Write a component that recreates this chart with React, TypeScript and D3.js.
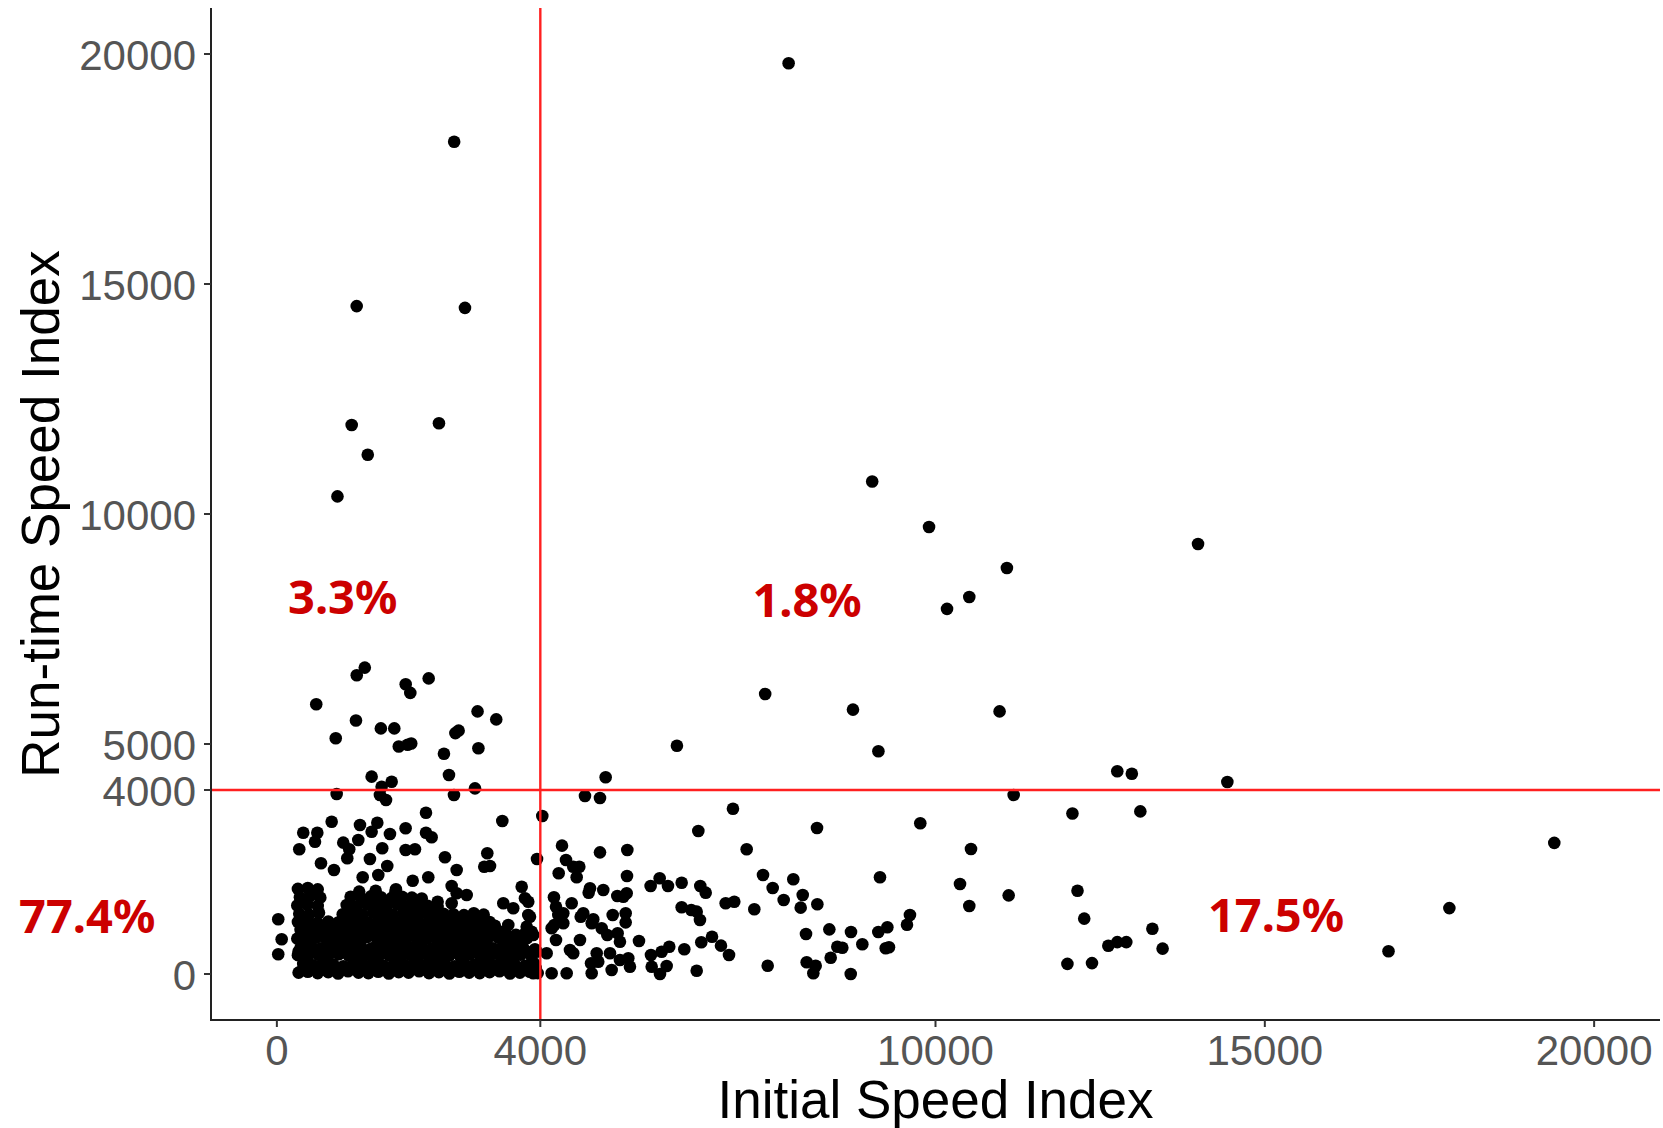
import React from "react";
import * as d3 from "d3";

type P = [number, number];

// Axis ticks
const xTicks = [0, 4000, 10000, 15000, 20000];
const yTicks = [0, 4000, 5000, 10000, 15000, 20000];
const thresholdX = 4000;
const thresholdY = 4000;

// Quadrant annotations
const quadLabels = ["3.3%", "1.8%", "77.4%", "17.5%"];
const quadLabelX = [1000, 8050, -2880, 15170];
const quadLabelY = [8200, 8120, 1270, 1280];

// Slow initial & slow run-time (upper left)
const upperLeft: P[] = [
  [920, 10383], [1136, 11935], [1380, 11289], [1212, 14520], [2692, 18091], [2856, 14480], [2461, 11974],
  [1335, 6661], [1213, 6496], [2305, 6426], [1956, 6300], [2026, 6111], [598, 5865], [3047, 5709],
  [3331, 5535], [1201, 5511], [1579, 5339], [1783, 5339], [2710, 5237], [2760, 5290], [894, 5126],
  [1851, 4946], [1985, 4985], [2040, 5010], [2537, 4787], [3060, 4907], [2613, 4326], [1439, 4290],
  [1743, 4180], [1591, 4072], [3008, 4036],
];

// Upper right
const upperRight: P[] = [
  [7770, 19800], [9039, 10708], [9902, 9716], [13986, 9347], [11084, 8826], [10513, 8196], [10175, 7937],
  [7414, 6087], [8747, 5748], [10973, 5709], [6074, 4961], [9133, 4843], [12760, 4409], [12981, 4354],
  [14431, 4174], [4992, 4276],
];

// Lower left, scattered points above the dense cluster
const lowerLeftScatter: P[] = [
  [908, 3913], [1565, 3891], [1657, 3783], [2689, 3891], [2264, 3507], [3423, 3326], [832, 3311],
  [401, 3072], [614, 3072], [579, 2876], [340, 2711], [1262, 3239], [1236, 2913], [1008, 2855],
  [1099, 2711], [1069, 2515], [1525, 3289], [1439, 3093], [1717, 3043], [1955, 3167], [1600, 2733],
  [1955, 2696], [2097, 2711], [2264, 3072], [2350, 2972], [1413, 2500], [670, 2406], [867, 2261],
  [1676, 2348], [1540, 2152], [1303, 2102], [2062, 2028], [2299, 2102], [2552, 2537], [2730, 2261],
  [3195, 2624], [3149, 2333], [3236, 2348], [3950, 2500], [1808, 1841], [2654, 1913], [2730, 1754],
  [2882, 1717], [2441, 1572], [2654, 1537], [3717, 1898], [3767, 1646], [3817, 1572], [3438, 1537],
  [3589, 1428], [3817, 1283], [3514, 1065], [3793, 1029], [21, 1189], [73, 754], [21, 428],
  [3919, 537], [3869, 920], [3945, 485], [3893, 15], [3893, 848], [3843, 1246],
];

// Lower left dense cluster
const clusterRow0: P[] = [
  [330, 30], [470, 50], [620, 20], [780, 40], [930, 10], [1080, 60], [1240, 30], [1390, 20], [1540, 50],
  [1700, 10], [1850, 40], [2000, 30], [2160, 60], [2310, 20], [2460, 40], [2620, 10], [2770, 50],
  [2920, 30], [3080, 20], [3230, 40], [3380, 60], [3540, 10], [3690, 30], [3840, 50], [3960, 20],
];
const clusterRow1: P[] = [
  [400, 220], [550, 190], [700, 240], [860, 200], [1010, 170], [1160, 230], [1310, 210], [1470, 250],
  [1620, 180], [1780, 220], [1930, 200], [2080, 240], [2240, 190], [2390, 210], [2540, 230], [2700, 170],
  [2850, 220], [3000, 200], [3160, 250], [3310, 190], [3460, 230], [3610, 210], [3770, 180], [3900, 240],
];
const clusterRow2: P[] = [
  [320, 410], [470, 380], [630, 420], [780, 390], [940, 430], [1090, 400], [1240, 370], [1390, 420],
  [1550, 390], [1700, 410], [1860, 380], [2010, 430], [2160, 400], [2320, 370], [2470, 420], [2620, 400],
  [2780, 390], [2930, 430], [3090, 380], [3240, 410], [3390, 400], [3550, 370], [3700, 420], [3860, 390],
];
const clusterRow3: P[] = [
  [360, 570], [520, 600], [670, 560], [820, 590], [980, 610], [1130, 570], [1280, 590], [1440, 560],
  [1590, 600], [1740, 580], [1900, 620], [2050, 570], [2200, 590], [2360, 560], [2510, 600], [2660, 580],
  [2820, 610], [2970, 570], [3120, 590], [3280, 560], [3430, 600], [3580, 580], [3740, 570],
];
const clusterRow4: P[] = [
  [310, 770], [450, 750], [600, 790], [750, 760], [900, 780], [1060, 740], [1210, 770], [1360, 800],
  [1520, 760], [1670, 780], [1820, 750], [1980, 790], [2130, 760], [2280, 770], [2440, 740], [2590, 790],
  [2740, 760], [2900, 780], [3050, 750], [3200, 770], [3360, 790], [3510, 760], [3660, 740], [3800, 780],
];
const clusterRow5: P[] = [
  [360, 960], [520, 940], [670, 970], [820, 950], [980, 930], [1130, 970], [1290, 950], [1440, 940],
  [1590, 980], [1750, 950], [1900, 930], [2050, 960], [2210, 940], [2360, 970], [2510, 950], [2670, 930],
  [2820, 960], [2970, 940], [3130, 970], [3280, 940], [3430, 920],
];
const clusterRow6: P[] = [
  [320, 1130], [470, 1150], [620, 1110], [780, 1140], [930, 1120], [1080, 1160], [1240, 1130], [1390, 1110],
  [1540, 1150], [1700, 1130], [1850, 1120], [2000, 1150], [2160, 1110], [2310, 1140], [2460, 1130],
  [2620, 1160], [2770, 1120], [2920, 1140], [3080, 1110], [3230, 1130],
];
const clusterRow7: P[] = [
  [340, 1310], [490, 1290], [640, 1330], [1000, 1300], [1150, 1320], [1300, 1290], [1460, 1330],
  [1610, 1310], [1760, 1290], [1920, 1320], [2070, 1300], [2220, 1330], [2380, 1290], [2530, 1310],
  [2680, 1300], [2840, 1280], [2990, 1320], [3140, 1290],
];
const clusterRow8: P[] = [
  [310, 1490], [460, 1510], [620, 1480], [1060, 1500], [1210, 1470], [1370, 1510], [1520, 1490],
  [1670, 1480], [1830, 1510], [1980, 1470], [2130, 1500], [2290, 1480], [2440, 1460],
];
const clusterRow9: P[] = [
  [350, 1670], [500, 1690], [660, 1660], [1120, 1680], [1280, 1650], [1430, 1690], [1580, 1670],
  [1740, 1650], [1900, 1680], [2050, 1660], [2200, 1640],
];
const clusterRow10: P[] = [
  [320, 1850], [470, 1870], [620, 1840], [1250, 1790], [1500, 1810], [1800, 1780],
];
// Additional overlapping points inside the dense cluster
const clusterFillA: P[] = [
  [400, 110], [560, 130], [710, 100], [870, 120], [1020, 140], [1170, 110], [1320, 130], [1480, 100],
  [1630, 120], [1790, 140], [1940, 110], [2090, 130], [2250, 100], [2400, 120], [2550, 140], [2710, 110],
  [2860, 130], [3010, 100], [3170, 120], [3320, 140], [3470, 110], [3620, 130], [3780, 100], [3930, 130],
];
const clusterFillB: P[] = [
  [330, 490], [480, 470], [640, 500], [790, 480], [950, 510], [1100, 490], [1250, 470], [1410, 500],
  [1560, 480], [1720, 510], [1870, 490], [2020, 470], [2180, 500], [2330, 480], [2490, 510], [2640, 490],
  [2790, 470], [2950, 500], [3100, 480], [3260, 510], [3410, 490], [3560, 470], [3720, 500], [3870, 480],
];
const clusterFillC: P[] = [
  [400, 860], [550, 850], [710, 870], [860, 840], [1010, 860], [1170, 850], [1320, 870], [1480, 840],
  [1630, 860], [1790, 850], [1940, 870], [2100, 840], [2250, 860], [2400, 850], [2560, 870], [2710, 840],
  [2870, 860], [3020, 850], [3170, 870], [3330, 840], [3480, 860], [3630, 850], [3760, 870],
];
const clusterFillD: P[] = [
  [390, 1040], [540, 1050], [700, 1030], [860, 1040], [1010, 1060], [1160, 1030], [1320, 1050],
  [1470, 1040], [1620, 1030], [1780, 1060], [1930, 1040], [2080, 1030], [2240, 1050], [2390, 1040],
  [2540, 1060], [2700, 1030], [2850, 1050], [3000, 1040], [3160, 1030], [3310, 1050],
];

// Lower right
const lowerRight: P[] = [
  [4678, 3870], [4906, 3826], [4030, 3435], [11187, 3891], [6925, 3594], [6399, 3109], [8201, 3174],
  [9769, 3276], [7133, 2711], [10539, 2717], [9157, 2102], [10372, 1957], [11111, 1710], [10513, 1478],
  [4329, 2790], [4390, 2478], [4906, 2645], [5321, 2696], [4592, 2333], [4279, 2189], [4552, 2102],
  [5316, 2130], [5675, 1913], [5812, 2080], [5938, 1913], [6146, 1985], [6429, 1913], [6511, 1768],
  [7381, 2152], [7528, 1870], [7841, 2059], [7984, 1717], [7695, 1609], [7953, 1442], [8206, 1515],
  [6814, 1537], [6945, 1572], [7249, 1407], [6146, 1450], [6292, 1391], [6374, 1355], [6424, 1174],
  [8034, 870], [8388, 971], [8717, 913], [9132, 913], [9269, 1015], [9567, 1072], [9612, 1283],
  [8889, 646], [8509, 594], [8585, 572], [9244, 559], [9294, 580], [8409, 354], [8044, 254],
  [8181, 180], [8145, 15], [8713, 0], [7452, 180], [6374, 72], [6865, 413], [6743, 616], [6607, 811],
  [6444, 689], [6186, 537], [5498, 717], [5958, 594], [5842, 485], [5918, 174], [5680, 413],
  [5691, 159], [5817, 0], [5099, 1283], [5296, 1319], [5296, 1123], [4734, 1768], [4956, 1826],
  [5169, 1696], [5311, 1754], [4207, 1667], [4476, 1537], [4613, 1246], [4804, 1189], [4212, 1065],
  [4349, 1102], [5017, 848], [5174, 885], [5209, 702], [4602, 739], [4238, 739], [4450, 522],
  [4856, 450], [5058, 450], [5336, 341], [5361, 159], [5083, 87], [4780, 15], [4400, 15], [4172, 15],
  [4096, 450], [4500, 450], [4238, 1463], [4349, 1319], [4652, 1319], [4780, 1102], [4932, 993],
  [4172, 993], [4273, 1283], [4770, 232], [4880, 268], [5209, 304], [4754, 1863], [4500, 2333],
  [5260, 1680],
  [12079, 3489], [13110, 3535], [19395, 2850], [12156, 1811], [12258, 1204], [17802, 1433],
  [13293, 985], [12624, 615], [12760, 693], [12897, 693], [13448, 552], [12003, 220], [12376, 237],
  [16878, 496],
];

const allPoints: P[] = [
  ...clusterRow0, ...clusterRow1, ...clusterRow2, ...clusterRow3, ...clusterRow4, ...clusterRow5,
  ...clusterRow6, ...clusterRow7, ...clusterRow8, ...clusterRow9, ...clusterRow10,
  ...clusterFillA, ...clusterFillB, ...clusterFillC, ...clusterFillD,
  ...lowerLeftScatter, ...lowerRight, ...upperLeft, ...upperRight,
];

const W = 1663;
const H = 1128;
const panel = { left: 211, right: 1660, top: 8, bottom: 1020 };

export default function App() {
  const x = d3.scaleLinear().domain([-1000, 21000]).range([panel.left, panel.right]);
  const y = d3.scaleLinear().domain([-1000, 21000]).range([panel.bottom, panel.top]);
  const sansFont = "'Liberation Sans', Arial, Helvetica, sans-serif";

  return (
    <svg
      width={W}
      height={H}
      viewBox={`0 0 ${W} ${H}`}
      style={{ position: "absolute", left: 0, top: 0, display: "block", background: "#fff" }}
    >
      <rect x={0} y={0} width={W} height={H} fill="#fff" />

      {/* points */}
      <g>
        {allPoints.map((p, i) => (
          <circle key={i} cx={x(p[0])} cy={y(p[1])} r={6.3} fill="#000" />
        ))}
      </g>

      {/* threshold lines */}
      <line x1={x(thresholdX)} x2={x(thresholdX)} y1={panel.top} y2={panel.bottom} stroke="#ff2020" strokeWidth={2.4} />
      <line x1={panel.left} x2={panel.right} y1={y(thresholdY)} y2={y(thresholdY)} stroke="#ff2020" strokeWidth={2.4} />

      {/* axes */}
      <line x1={panel.left} x2={panel.left} y1={panel.top} y2={panel.bottom + 1} stroke="#222" strokeWidth={2} />
      <line x1={panel.left - 1} x2={panel.right} y1={panel.bottom} y2={panel.bottom} stroke="#222" strokeWidth={2} />

      {yTicks.map((t) => (
        <g key={"yt" + t}>
          <line x1={panel.left - 7} x2={panel.left} y1={y(t)} y2={y(t)} stroke="#333" strokeWidth={2} />
          <text
            x={panel.left - 15}
            y={y(t)}
            dy="0.37em"
            textAnchor="end"
            fontFamily={sansFont}
            fontSize={42}
            fill="#555"
          >
            {t}
          </text>
        </g>
      ))}

      {xTicks.map((t) => (
        <g key={"xt" + t}>
          <line x1={x(t)} x2={x(t)} y1={panel.bottom} y2={panel.bottom + 7} stroke="#333" strokeWidth={2} />
          <text x={x(t)} y={1065} textAnchor="middle" fontFamily={sansFont} fontSize={42} fill="#555">
            {t}
          </text>
        </g>
      ))}

      {/* axis titles */}
      <text
        x={(panel.left + panel.right) / 2}
        y={1118}
        textAnchor="middle"
        fontFamily={sansFont}
        fontSize={53}
        fill="#000"
      >
        Initial Speed Index
      </text>
      <text
        transform={`translate(59, ${(panel.top + panel.bottom) / 2}) rotate(-90)`}
        textAnchor="middle"
        fontFamily={sansFont}
        fontSize={53}
        fill="#000"
      >
        Run-time Speed Index
      </text>

      {/* quadrant percentages */}
      {quadLabels.map((s, i) => (
        <text
          key={s}
          x={x(quadLabelX[i])}
          y={y(quadLabelY[i])}
          dy="0.36em"
          textAnchor="middle"
          fontFamily="'Noto Sans', 'Open Sans', sans-serif"
          fontWeight={700}
          fontSize={47}
          fill="#cc0000"
        >
          {s}
        </text>
      ))}
    </svg>
  );
}
